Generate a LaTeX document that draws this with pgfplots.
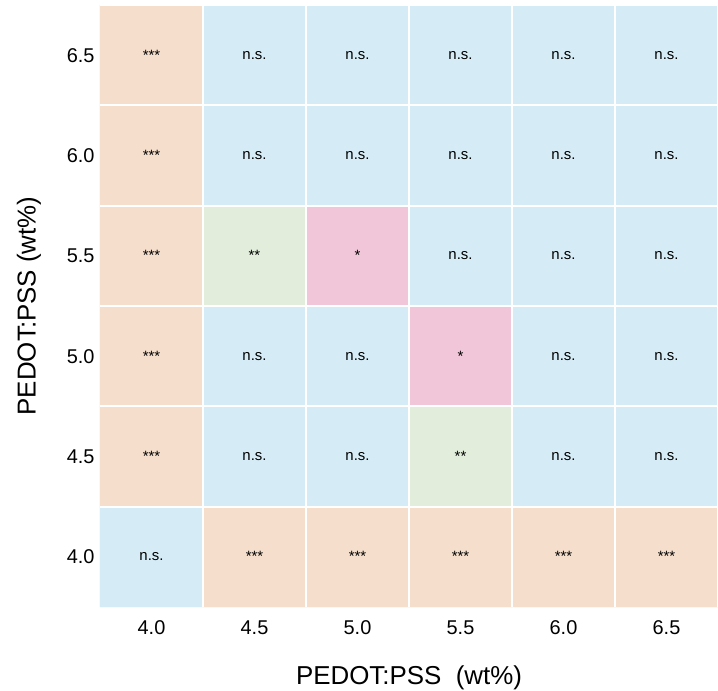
\documentclass[border=0pt]{standalone}
\usepackage{pgfplots}
\pgfplotsset{compat=1.18}
\usepackage{pgfplotstable}
\usepackage{fontspec}
\setmainfont{Liberation Sans}

\definecolor{sigthree}{RGB}{245,223,204}
\definecolor{signs}{RGB}{213,236,246}
\definecolor{sigtwo}{RGB}{226,238,219}
\definecolor{sigone}{RGB}{241,198,217}

% c: 0 = ***, 1 = n.s., 2 = **, 3 = *
\pgfplotstableread{
x   y   c  lab
4.0 4.0 1  n.s.
4.5 4.0 0  ***
5.0 4.0 0  ***
5.5 4.0 0  ***
6.0 4.0 0  ***
6.5 4.0 0  ***
4.0 4.5 0  ***
4.5 4.5 1  n.s.
5.0 4.5 1  n.s.
5.5 4.5 2  **
6.0 4.5 1  n.s.
6.5 4.5 1  n.s.
4.0 5.0 0  ***
4.5 5.0 1  n.s.
5.0 5.0 1  n.s.
5.5 5.0 3  *
6.0 5.0 1  n.s.
6.5 5.0 1  n.s.
4.0 5.5 0  ***
4.5 5.5 2  **
5.0 5.5 3  *
5.5 5.5 1  n.s.
6.0 5.5 1  n.s.
6.5 5.5 1  n.s.
4.0 6.0 0  ***
4.5 6.0 1  n.s.
5.0 6.0 1  n.s.
5.5 6.0 1  n.s.
6.0 6.0 1  n.s.
6.5 6.0 1  n.s.
4.0 6.5 0  ***
4.5 6.5 1  n.s.
5.0 6.5 1  n.s.
5.5 6.5 1  n.s.
6.0 6.5 1  n.s.
6.5 6.5 1  n.s.
}\pvals

\begin{document}
\begin{tikzpicture}
\begin{axis}[
    name=ax,
    scale only axis,
    width=618bp, height=602bp,
    xmin=3.75, xmax=6.75, ymin=3.75, ymax=6.75,
    xtick={4.0,4.5,...,6.5}, ytick={4.0,4.5,...,6.5},
    minor xtick={4.25,4.75,...,6.5}, minor ytick={4.25,4.75,...,6.5},
    minor grid style={white, line width=2bp},
    xminorgrids, yminorgrids,
    axis on top,
    axis line style={draw=none},
    major tick length=0pt, minor tick length=0pt,
    /pgf/number format/.cd, fixed, fixed zerofill, precision=1, assume math mode=true,
    /pgfplots/.cd,
    ticklabel style={font=\fontsize{20}{20}\selectfont},
    xticklabel style={yshift=-10bp},
    yticklabel style={xshift=-2bp},
    xlabel={PEDOT:PSS\ \ (wt\%)},
    ylabel={PEDOT:PSS (wt\%)},
    label style={font=\fontsize{26}{26}\selectfont},
    xlabel style={yshift=-24bp},
    ylabel style={yshift=19bp},
    colormap={sig}{color=(sigthree) color=(signs) color=(sigtwo) color=(sigone)},
    colormap access=direct,
]
\addplot[matrix plot*, mesh/cols=6, point meta=explicit]
    table[x=x, y=y, meta=c] {\pvals};
\addplot[only marks, mark=none, point meta=explicit symbolic,
    nodes near coords, nodes near coords align=center,
    every node near coord/.append style={font=\fontsize{15}{15}\selectfont, text=black}]
    table[x=x, y=y, meta=lab] {\pvals};
\end{axis}
\pgfresetboundingbox
\path ([shift={(-100bp,-84bp)}]ax.south west) rectangle ([shift={(0bp,5bp)}]ax.north east);
\end{tikzpicture}
\end{document}
